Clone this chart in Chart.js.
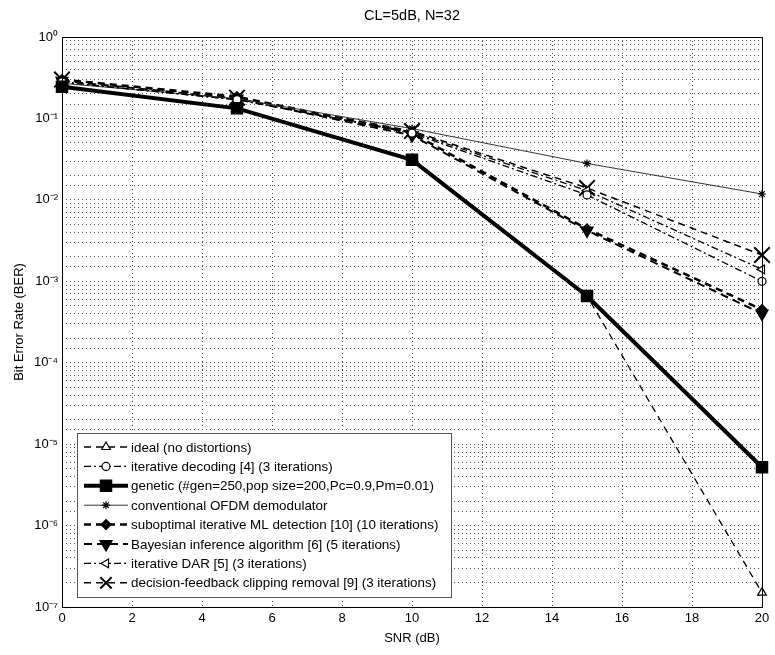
<!DOCTYPE html>
<html>
<head>
<meta charset="utf-8">
<script src="https://cdn.jsdelivr.net/npm/chart.js@4.4.1/dist/chart.umd.min.js"></script>
<style>
  html, body { margin: 0; padding: 0; background: #fff; }
  #wrap { width: 775px; height: 655px; }
</style>
</head>
<body>
<div id="wrap"><canvas id="berChart" width="775" height="655"></canvas></div>
<script>
// Data (SNR in dB, BER)
const snr = [0, 5, 10, 15, 20];
const ideal = [0.25, 0.13, 0.031, 0.00066, 1.5e-7];
const iterDecoding = [0.28, 0.17, 0.066, 0.0115, 0.001];
const genetic = [0.245, 0.133, 0.031, 0.00066, 5.2e-6];
const conventional = [0.27, 0.175, 0.075, 0.028, 0.0118];
const suboptimalML = [0.3, 0.185, 0.066, 0.0044, 0.00045];
const bayesian = [0.29, 0.175, 0.062, 0.0042, 0.0004];
const iterDAR = [0.28, 0.17, 0.068, 0.013, 0.0014];
const dfClipping = [0.3, 0.18, 0.07, 0.014, 0.0021];

const xTicks = [0, 2, 4, 6, 8, 10, 12, 14, 16, 18, 20];
const supers = { '0': '⁰', '1': '¹', '2': '²', '3': '³', '4': '⁴', '5': '⁵', '6': '⁶', '7': '⁷', '8': '⁸', '9': '⁹', '-': '⁻' };

const FONT = '"Liberation Sans", Arial, sans-serif';

function pts(arr) {
    return arr.map((v, i) => ({ x: snr[i], y: v }));
}

function series(label, values, style) {
    return Object.assign({
        label: label,
        data: pts(values),
        borderColor: '#000',
        pointBorderColor: '#000',
        pointBackgroundColor: '#fff',
        borderWidth: 1.3,
        pointBorderWidth: 1.2,
        fill: false,
        clip: false,
        order: 1,
        tension: 0
    }, style);
}

const datasets = [
    series('ideal (no distortions)', ideal, { borderDash: [7, 5], pointStyle: 'triangle', pointRadius: 5, order: 2 }),
    series('iterative decoding [4] (3 iterations)', iterDecoding, { borderDash: [7, 3, 2, 3], pointStyle: 'circle', pointRadius: 4 }),
    series('genetic (#gen=250,pop size=200,Pc=0.9,Pm=0.01)', genetic, { borderWidth: 4, pointStyle: 'rect', pointRadius: 8, pointBackgroundColor: '#000', order: 0 }),
    series('conventional OFDM demodulator', conventional, { borderWidth: 1, borderColor: '#333', pointStyle: 'star', pointRadius: 4 }),
    series('suboptimal iterative ML detection [10] (10 iterations)', suboptimalML, { borderDash: [7, 5], borderWidth: 2.5, pointStyle: 'rectRot', pointRadius: 5, pointBackgroundColor: '#000' }),
    series('Bayesian inference algorithm [6] (5 iterations)', bayesian, { borderDash: [8, 5], borderWidth: 2, pointStyle: 'triangle', pointRotation: 180, pointRadius: 7, pointBackgroundColor: '#000' }),
    series('iterative DAR [5] (3 iterations)', iterDAR, { borderDash: [7, 3, 2, 3], pointStyle: 'triangle', pointRotation: -90, pointRadius: 5 }),
    series('decision-feedback clipping removal [9] (3 iterations)', dfClipping, { borderDash: [7, 5], borderWidth: 1.5, pointStyle: 'crossRot', pointRadius: 11, pointBorderWidth: 2 })
];

// Frame + title + legend drawn inside the axes, MATLAB style
const matlabBits = {
    id: 'matlabBits',
    afterDraw(chart) {
        const ctx = chart.ctx;
        const a = chart.chartArea;
        ctx.save();
        ctx.strokeStyle = '#000';
        ctx.lineWidth = 1;
        ctx.setLineDash([]);
        ctx.strokeRect(a.left + 0.5, a.top + 0.5, a.right - a.left, a.bottom - a.top);

        ctx.fillStyle = '#000';
        ctx.font = '14.5px ' + FONT;
        ctx.textAlign = 'center';
        ctx.textBaseline = 'middle';
        ctx.fillText('CL=5dB, N=32', (a.left + a.right) / 2, 16);

        // legend box
        const bx = 77, by = 433, bw = 374, bh = 164, rowH = 19.4;
        ctx.fillStyle = '#fff';
        ctx.fillRect(bx, by, bw, bh);
        ctx.strokeStyle = '#555';
        ctx.strokeRect(bx + 0.5, by + 0.5, bw, bh);
        ctx.font = '13.4px ' + FONT;
        ctx.textAlign = 'left';
        chart.data.datasets.forEach((ds, i) => {
            const y = by + 14 + i * rowH;
            ctx.strokeStyle = ds.borderColor;
            ctx.lineWidth = ds.borderWidth;
            ctx.setLineDash(ds.borderDash || []);
            ctx.beginPath();
            ctx.moveTo(bx + 7, y);
            ctx.lineTo(bx + 51, y);
            ctx.stroke();
            ctx.setLineDash([]);
            ctx.fillStyle = ds.pointBackgroundColor;
            ctx.strokeStyle = ds.pointBorderColor;
            ctx.lineWidth = ds.pointBorderWidth;
            Chart.helpers.drawPoint(ctx, {
                pointStyle: ds.pointStyle,
                rotation: ds.pointRotation || 0,
                radius: Math.min(ds.pointRadius, 8),
                borderWidth: ds.pointBorderWidth
            }, bx + 29, y);
            ctx.fillStyle = '#000';
            ctx.fillText(ds.label, bx + 54, y + 1);
        });
        ctx.restore();
    }
};

const ctx = document.getElementById('berChart').getContext('2d');
new Chart(ctx, {
    type: 'line',
    data: { datasets: datasets },
    options: {
        responsive: false,
        animation: false,
        layout: { padding: { top: 37, right: 9, left: 8, bottom: 5 } },
        plugins: {
            legend: { display: false },
            title: { display: false },
            tooltip: { enabled: false }
        },
        scales: {
            x: {
                type: 'linear',
                min: 0,
                max: 20,
                afterFit: s => { s.height = 43; },
                afterBuildTicks: s => { s.ticks = xTicks.map(v => ({ value: v })); },
                ticks: { color: '#000', padding: 4, font: { family: FONT, size: 13 } },
                grid: { color: '#444', drawTicks: false },
                border: { display: false, dash: [1, 3] },
                title: { display: true, text: 'SNR (dB)', color: '#000', padding: { top: 0 }, font: { family: FONT, size: 13 } }
            },
            y: {
                type: 'logarithmic',
                min: 1e-7,
                max: 1,
                afterFit: s => { s.width = 54; },
                ticks: {
                    autoSkip: false,
                    color: '#000',
                    padding: 4,
                    font: { family: FONT, size: 13 },
                    callback: v => {
                        const e = Math.log10(v);
                        if (Math.abs(e - Math.round(e)) > 1e-6) return '';
                        return '10' + String(Math.round(e)).split('').map(c => supers[c]).join('');
                    }
                },
                grid: { color: '#555', drawTicks: false },
                border: { display: false, dash: [1, 3] },
                title: { display: true, text: 'Bit Error Rate (BER)', color: '#000', padding: { bottom: 2 }, font: { family: FONT, size: 13 } }
            }
        }
    },
    plugins: [matlabBits]
});
</script>
</body>
</html>
